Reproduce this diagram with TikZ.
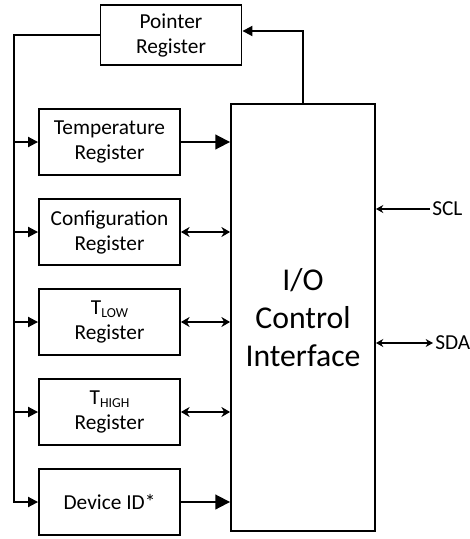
\documentclass[tikz,border=0pt]{standalone}
\usepackage{fontspec}
\setmainfont{Carlito}
\usetikzlibrary{positioning, arrows.meta}

\newcommand{\lowtxt}[1]{\raisebox{-2.5pt}{\fontsize{10.3}{10}\selectfont #1}}

\begin{document}
\begin{tikzpicture}[
					x=0.75pt, y=-0.75pt,
					node distance=67.5pt,
					line width=1.4pt,
					reg/.style={draw, minimum width=105.75pt, minimum height=49.5pt, inner sep=0pt, align=center, font=\fontsize{16}{18.75}\selectfont},
					bus/.style={-{Triangle[length=7.5pt, width=7.5pt]}},
					big/.style={-{Triangle[length=11pt, width=11pt]}},
					both/.style={{Stealth[length=6.5pt, width=7.5pt]}-{Stealth[length=6.5pt, width=7.5pt]}},
					pin/.style={line width=1pt},
					lbl/.style={anchor=west, inner sep=1pt, font=\fontsize{16}{18.75}\selectfont}
					]
					\useasboundingbox (0,0) rectangle (470,539);
					% Nodes
					\node [reg, minimum height=45pt] (Pointer) at (171,35) {Pointer\\Register};
					\node [reg] (Temp) at (109.5,142) {Temperature\\Register};
					\node [reg, below of=Temp] (Config) {Configuration\\Register};
					\node [reg, below of=Config] (TLow) {T\lowtxt{LOW}\\Register};
					\node [reg, below of=TLow] (THigh) {T\lowtxt{HIGH}\\Register};
					\node [reg, below of=THigh] (Device) {Device ID*};
					\node [draw, minimum width=108pt, minimum height=320.25pt, align=center, font=\fontsize{23.8}{28.5}\selectfont] (IO) at (303,317.5) {I/O\\Control\\Interface};

					% Pins
					\node [lbl] (SCL) at (430,209) {SCL};
					\node [lbl] (SDA) at (433,343) {SDA};

					% Edges
					\draw [bus] (Pointer.west) -| ([xshift=-18pt]Device.west) -- (Device.west);
					\foreach \reg in {Temp, Config, TLow, THigh}
						\draw [bus] ([xshift=-18pt]\reg.west) -- (\reg.west);
					\draw [big] (Temp.east) -- (IO.west |- Temp.east);
					\draw [big] (Device.east) -- (IO.west |- Device.east);
					\foreach \reg in {Config, TLow, THigh}
						\draw [both] (\reg.east) -- (IO.west |- \reg.east);
					\draw [bus] (IO.north) |- ([yshift=3pt]Pointer.east);
					\draw [pin, -{Stealth[length=5.5pt, width=6pt]}] (SCL.west) -- (IO.east |- SCL.west);
					\draw [pin, {Stealth[length=5.5pt, width=6pt]}-{Stealth[length=5.5pt, width=6pt]}] (IO.east |- SDA.west) -- (SDA.west);
				\end{tikzpicture}
\end{document}
